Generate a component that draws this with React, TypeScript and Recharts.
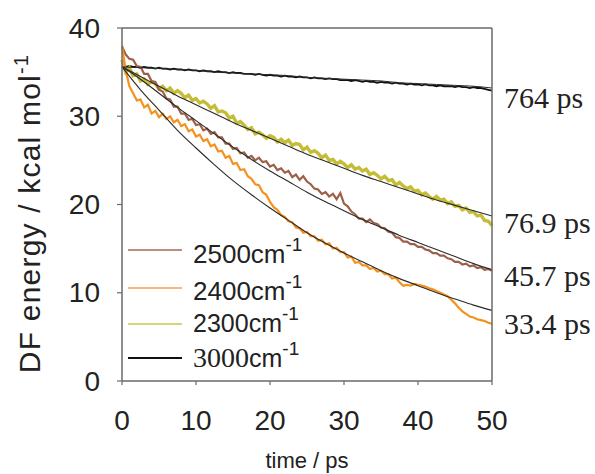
import React from 'react';
import { LineChart, Line, XAxis, YAxis, ReferenceLine, Legend, Label } from 'recharts';

// time axis (ps), 0.5 ps sampling
const timePs = Array.from({ length: 101 }, (_, i) => i * 0.5);
const xTicks = [0, 10, 20, 30, 40, 50];
const yTicks = [0, 10, 20, 30, 40];

// DF energy traces (kcal/mol)
const trace2500 = [
  37.9, 37.0, 36.5, 36.4, 35.7, 35.6, 34.8, 34.8, 34.0, 33.9,
  33.0, 32.8, 32.0, 31.9, 31.1, 31.1, 30.3, 30.3, 29.6, 29.7,
  29.0, 29.1, 28.4, 28.6, 28.0, 28.2, 27.6, 27.6, 26.9, 26.9,
  26.3, 26.4, 25.8, 25.9, 25.3, 25.5, 25.0, 25.3, 24.8, 24.9,
  24.3, 24.5, 23.9, 24.1, 23.6, 23.8, 23.1, 23.4, 22.8, 23.2,
  22.6, 22.3, 21.8, 21.7, 21.2, 21.4, 20.9, 21.2, 20.6, 21.3,
  20.1, 19.8, 19.2, 18.9, 18.4, 18.4, 18.0, 18.3, 17.9, 17.8,
  17.4, 17.3, 16.9, 16.8, 16.3, 16.2, 15.8, 15.8, 15.5, 15.5,
  15.2, 15.2, 14.9, 14.8, 14.5, 14.5, 14.2, 14.2, 13.9, 13.8,
  13.5, 13.5, 13.2, 13.3, 13.0, 13.1, 12.8, 12.9, 12.6, 12.7,
  12.5,
];
const trace2400 = [
  38.0, 35.2, 33.4, 32.6, 31.8, 31.9, 31.0, 31.3, 30.3, 30.6,
  29.9, 30.3, 29.7, 30.0, 29.3, 29.6, 28.9, 29.1, 28.3, 28.5,
  27.7, 27.9, 27.2, 27.4, 26.6, 26.8, 26.0, 26.1, 25.3, 25.5,
  24.6, 24.7, 23.9, 24.0, 23.2, 22.9, 22.3, 22.2, 21.4, 21.1,
  20.3, 19.7, 19.4, 18.8, 18.6, 18.1, 18.0, 17.4, 17.3, 16.8,
  16.9, 16.4, 16.4, 15.9, 16.0, 15.5, 15.6, 15.0, 15.1, 14.6,
  14.6, 14.0, 14.1, 13.4, 13.5, 13.1, 13.1, 12.7, 12.8, 12.4,
  12.5, 12.1, 12.1, 11.6, 11.7, 11.2, 10.8, 10.9, 10.8, 11.0,
  10.9, 10.8, 10.7, 10.5, 10.4, 10.2, 10.0, 9.8, 9.6, 9.2,
  8.8, 8.3, 7.9, 7.6, 7.3, 7.2, 7.0, 6.9, 6.8, 6.6,
  6.5,
];
const trace2300 = [
  36.4, 35.0, 35.5, 34.6, 34.8, 34.0, 34.2, 33.6, 33.9, 33.7,
  33.1, 33.4, 32.9, 33.2, 32.6, 32.9, 32.6, 32.1, 32.4, 31.8,
  32.0, 31.5, 31.7, 31.4, 30.9, 31.2, 30.5, 30.6, 30.4, 29.8,
  30.0, 29.2, 29.4, 29.0, 28.5, 28.7, 28.0, 28.2, 27.9, 27.5,
  27.8, 27.6, 27.1, 27.4, 27.0, 27.3, 26.7, 26.9, 26.8, 26.2,
  26.5, 25.9, 26.1, 25.8, 25.3, 25.6, 25.0, 25.1, 24.6, 24.9,
  24.6, 24.2, 24.5, 24.0, 24.2, 23.8, 24.0, 23.4, 23.6, 23.3,
  22.9, 23.2, 22.7, 22.8, 22.2, 22.5, 22.1, 21.8, 22.0, 21.5,
  21.6, 21.1, 21.3, 20.9, 20.6, 20.9, 20.5, 20.6, 20.1, 20.3,
  19.8, 19.9, 19.4, 19.6, 19.1, 19.2, 18.7, 18.8, 18.2, 18.1,
  17.6,
];
const trace3000 = [
  35.7, 35.6, 35.7, 35.6, 35.6, 35.5, 35.6, 35.5, 35.5, 35.4,
  35.5, 35.4, 35.4, 35.3, 35.4, 35.3, 35.3, 35.2, 35.3, 35.2,
  35.2, 35.1, 35.2, 35.1, 35.1, 35.0, 35.1, 35.0, 35.0, 34.9,
  35.0, 34.9, 34.9, 34.8, 34.8, 34.8, 34.7, 34.8, 34.7, 34.6,
  34.7, 34.6, 34.6, 34.5, 34.6, 34.5, 34.5, 34.4, 34.5, 34.4,
  34.4, 34.3, 34.4, 34.3, 34.3, 34.2, 34.3, 34.2, 34.2, 34.1,
  34.1, 34.1, 34.0, 34.1, 34.0, 33.9, 34.0, 33.9, 33.9, 33.8,
  33.9, 33.8, 33.8, 33.7, 33.8, 33.7, 33.7, 33.6, 33.7, 33.6,
  33.6, 33.5, 33.6, 33.5, 33.5, 33.4, 33.5, 33.4, 33.4, 33.4,
  33.3, 33.4, 33.3, 33.3, 33.2, 33.3, 33.2, 33.2, 33.1, 33.0,
  32.9,
];

// exponential fit curves, read every 2.5 ps
const fitTimes = [0, 2.5, 5, 7.5, 10, 12.5, 15, 17.5, 20, 22.5, 25, 27.5, 30, 32.5, 35, 37.5, 40, 42.5, 45, 47.5, 50];
const fit2500 = [35.6, 34.2, 32.6, 31.0, 29.5, 28.0, 26.5, 25.1, 23.8, 22.6, 21.4, 20.3, 19.3, 18.3, 17.4, 16.5, 15.7, 14.9, 14.1, 13.3, 12.6];
const fit2400 = [35.6, 33.0, 30.7, 28.4, 26.4, 24.5, 22.7, 21.1, 19.6, 18.2, 16.8, 15.6, 14.5, 13.5, 12.5, 11.6, 10.8, 10.0, 9.3, 8.6, 8.0];
const fit2300 = [35.6, 34.5, 33.4, 32.3, 31.3, 30.3, 29.3, 28.4, 27.5, 26.6, 25.7, 24.9, 24.1, 23.3, 22.6, 21.9, 21.2, 20.5, 19.9, 19.3, 18.7];
const fit3000 = [35.6, 35.5, 35.4, 35.3, 35.2, 35.0, 34.9, 34.8, 34.7, 34.6, 34.4, 34.3, 34.2, 34.1, 34.0, 33.8, 33.7, 33.6, 33.5, 33.4, 33.2];

// lifetime annotations on the right
const lifetimeLabels = ['764 ps', '76.9 ps', '45.7 ps', '33.4 ps'];
const lifetimeLabelY = [32.1, 18.0, 12.0, 6.5];

// legend entries
const legendWavenumbers = ['2500', '2400', '2300', '3000'];
const legendColors = ['#a56a55', '#f7a04a', '#cdc650', '#111111'];

const C2500 = '#9c5f48';
const C2400 = '#f5921e';
const C2300 = '#c6bd37';
const C3000 = '#111111';
const FIT = '#2a2a2a';
const AXIS = '#6a6a6a';
const SANS = '"Liberation Sans", Arial, Helvetica, sans-serif';
const SERIF = '"Liberation Serif", "Times New Roman", serif';

const data = timePs.map((t, i) => {
  const fi = fitTimes.indexOf(t);
  return {
    t,
    s2500: trace2500[i],
    s2400: trace2400[i],
    s2300: trace2300[i],
    s3000: trace3000[i],
    f2500: fi >= 0 ? fit2500[fi] : null,
    f2400: fi >= 0 ? fit2400[fi] : null,
    f2300: fi >= 0 ? fit2300[fi] : null,
    f3000: fi >= 0 ? fit3000[fi] : null,
  };
});

const YLeftTick = (props: any) => {
  const { x, y, payload } = props;
  return (
    <text x={x} y={y} dy={9.5} textAnchor="end" fontFamily={SANS} fontSize={28} fill="#222">
      {payload.value}
    </text>
  );
};

const XTick = (props: any) => {
  const { x, y, payload } = props;
  return (
    <text x={x} y={y} dy={44.5} textAnchor="middle" fontFamily={SANS} fontSize={28} fill="#222">
      {payload.value}
    </text>
  );
};

const RightTick = (props: any) => {
  const { x, y, payload } = props;
  const idx = lifetimeLabelY.indexOf(payload.value);
  return (
    <text x={x} y={y} dy={10.5} textAnchor="start" fontFamily={SERIF} fontSize={30} fill="#222">
      {idx >= 0 ? lifetimeLabels[idx] : ''}
    </text>
  );
};

const XTitle = (props: any) => {
  const vb = props.viewBox || {};
  const cx = vb.x + vb.width / 2;
  return (
    <text x={cx} y={468} textAnchor="middle" fontFamily={SANS} fontSize={22} fill="#222">
      time / ps
    </text>
  );
};

const YTitle = (props: any) => {
  const vb = props.viewBox || {};
  const cy = vb.y + vb.height / 2 + 9;
  return (
    <text transform={`translate(40, ${cy}) rotate(-90)`} textAnchor="middle" fontFamily={SANS} fontSize={30} letterSpacing={1.2} fill="#222">
      DF energy / kcal mol
      <tspan dy={-12} fontSize={20}>-1</tspan>
    </text>
  );
};

const LegendContent = () => {
  const lineY = [20, 58, 94, 128];
  const textY = [32.7, 70, 101.7, 136.7];
  return (
    <svg width={240} height={150} style={{ overflow: 'visible' }}>
      {legendWavenumbers.map((w, i) => (
        <g key={w}>
          <line x1={8} x2={62} y1={lineY[i]} y2={lineY[i]} stroke={legendColors[i]} strokeWidth={i === 3 ? 2 : 1.6} />
          <text x={73} y={textY[i]} fontFamily={SANS} fontSize={i < 2 ? 26 : 25} fill="#222">
            <tspan fontFamily={i === 3 ? SERIF : SANS} fontSize={i === 3 ? 28 : undefined}>{w}</tspan>
            <tspan>cm</tspan>
            <tspan dy={-12} fontSize={19}>-1</tspan>
          </text>
        </g>
      ))}
    </svg>
  );
};

export default function App() {
  return (
    <div style={{ position: 'absolute', left: 0, top: 0, width: 595, height: 474, background: '#fff' }}>
      <LineChart
        width={595}
        height={474}
        data={data}
        margin={{ top: 28, right: 3, bottom: 33, left: 62 }}
        style={{ fontFamily: SANS }}
      >
        <XAxis
          dataKey="t"
          type="number"
          domain={[0, 50]}
          ticks={xTicks}
          interval={0}
          height={60}
          tickSize={4}
          tickMargin={0}
          axisLine={{ stroke: AXIS, strokeWidth: 1.5 }}
          tickLine={{ stroke: AXIS, strokeWidth: 1.2 }}
          tick={<XTick />}
          label={<Label content={<XTitle />} />}
        />
        <YAxis
          type="number"
          domain={[0, 40]}
          ticks={yTicks}
          interval={0}
          width={60}
          tickSize={5}
          tickMargin={17}
          axisLine={{ stroke: AXIS, strokeWidth: 1.5 }}
          tickLine={{ stroke: AXIS, strokeWidth: 1.2 }}
          tick={<YLeftTick />}
          label={<Label content={<YTitle />} />}
        />
        <YAxis
          yAxisId="r"
          orientation="right"
          type="number"
          domain={[0, 40]}
          allowDataOverflow
          ticks={lifetimeLabelY}
          interval={0}
          width={100}
          tickSize={0}
          tickMargin={12}
          axisLine={{ stroke: AXIS, strokeWidth: 1.5 }}
          tickLine={false}
          tick={<RightTick />}
        />
        <ReferenceLine y={40} stroke={AXIS} strokeWidth={1.5} />
        <Legend
          layout="vertical"
          align="center"
          verticalAlign="middle"
          content={<LegendContent />}
          wrapperStyle={{ position: 'absolute', left: 120, top: 230, width: 240, height: 150 }}
        />
        <Line yAxisId="r" dataKey="s3000" stroke="none" strokeWidth={0} dot={false} legendType="none" isAnimationActive={false} />
        <Line dataKey="s3000" stroke={C3000} strokeWidth={1.8} dot={false} isAnimationActive={false} />
        <Line dataKey="s2300" stroke={C2300} strokeWidth={3.4} dot={false} isAnimationActive={false} />
        <Line dataKey="s2500" stroke={C2500} strokeWidth={2.2} dot={false} isAnimationActive={false} />
        <Line dataKey="s2400" stroke={C2400} strokeWidth={2.2} dot={false} isAnimationActive={false} />
        <Line dataKey="f2300" type="monotone" connectNulls stroke={FIT} strokeWidth={1.1} dot={false} isAnimationActive={false} />
        <Line dataKey="f2500" type="monotone" connectNulls stroke={FIT} strokeWidth={1.1} dot={false} isAnimationActive={false} />
        <Line dataKey="f2400" type="monotone" connectNulls stroke={FIT} strokeWidth={1.1} dot={false} isAnimationActive={false} />
        <Line dataKey="f3000" type="monotone" connectNulls stroke={FIT} strokeWidth={1} dot={false} isAnimationActive={false} />
      </LineChart>
    </div>
  );
}
